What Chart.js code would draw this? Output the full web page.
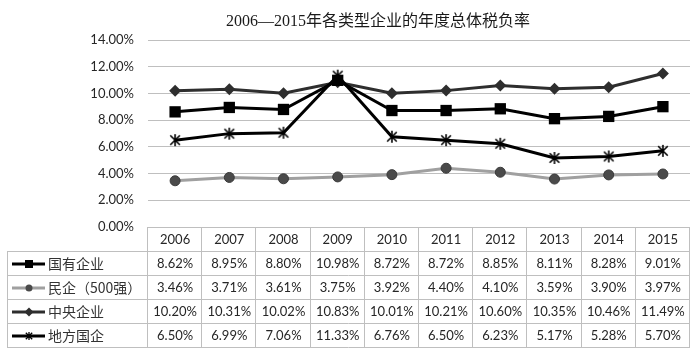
<!DOCTYPE html>
<html><head><meta charset="utf-8">
<script src="https://cdn.jsdelivr.net/npm/chart.js@4"></script>
<style>html,body{margin:0;padding:0;background:#fff}canvas{display:block}</style>
</head><body>
<canvas id="c" width="700" height="350"></canvas>
<script>
const chartTitle = '2006—2015年各类型企业的年度总体税负率';
const years = ['2006','2007','2008','2009','2010','2011','2012','2013','2014','2015'];
const seriesNames = ['国有企业','民企（500强）','中央企业','地方国企'];
const stateOwned = [8.62, 8.95, 8.80, 10.98, 8.72, 8.72, 8.85, 8.11, 8.28, 9.01];
const privateTop500 = [3.46, 3.71, 3.61, 3.75, 3.92, 4.40, 4.10, 3.59, 3.90, 3.97];
const centralSOE = [10.20, 10.31, 10.02, 10.83, 10.01, 10.21, 10.60, 10.35, 10.46, 11.49];
const localSOE = [6.50, 6.99, 7.06, 11.33, 6.76, 6.50, 6.23, 5.17, 5.28, 5.70];
const yMin = 0, yMax = 14, yStep = 2;

const NUM_FONT = '"Lato", "Open Sans", sans-serif';
const CJK_FONT = '"Noto Sans CJK SC", sans-serif';
const SERIF_FONT = '"Liberation Serif", "Noto Sans CJK SC", serif';

function makeStar(size, lw) {
  const c = document.createElement('canvas');
  c.width = size; c.height = size;
  const g = c.getContext('2d');
  g.strokeStyle = '#000'; g.lineWidth = lw; g.lineCap = 'butt';
  const m = size / 2, r = size / 2 - 1;
  g.beginPath();
  g.moveTo(m - r * 0.8, m - r * 0.8); g.lineTo(m + r * 0.8, m + r * 0.8);
  g.moveTo(m + r * 0.8, m - r * 0.8); g.lineTo(m - r * 0.8, m + r * 0.8);
  g.moveTo(m, m - r); g.lineTo(m, m + r);
  g.stroke();
  return c;
}
const starBig = makeStar(14, 1.6);
const starSmall = makeStar(10, 1.3);

const seriesData = [stateOwned, privateTop500, centralSOE, localSOE];
const seriesLine = ['#000000', '#a0a0a0', '#2e2e2e', '#000000'];

const tablePlugin = {
  id: 'tablePlugin',
  afterDraw(chart) {
    const ctx = chart.ctx;
    const area = chart.chartArea;
    const xs = chart.scales.x;
    const left = area.left, right = area.right;
    const colW = (right - left) / years.length;
    const top = Math.round(area.bottom);
    const headH = 24, rowH = 24;
    const tableLeft = 7;
    const bottom = top + headH + rowH * seriesNames.length;
    ctx.save();
    ctx.strokeStyle = '#bfbfbf';
    ctx.lineWidth = 1;
    ctx.beginPath();
    // header top
    ctx.moveTo(left, top + 0.5); ctx.lineTo(right, top + 0.5);
    // rows
    for (let r = 0; r <= seriesNames.length; r++) {
      const y = top + headH + r * rowH + 0.5;
      ctx.moveTo(tableLeft, y); ctx.lineTo(right, y);
    }
    // verticals
    for (let i = 0; i <= years.length; i++) {
      const x = Math.round(left + i * colW) - 0.5;
      ctx.moveTo(x, top); ctx.lineTo(x, bottom + 0.5);
    }
    ctx.moveTo(tableLeft + 0.5, top + headH); ctx.lineTo(tableLeft + 0.5, bottom + 0.5);
    ctx.stroke();

    ctx.fillStyle = '#262626';
    ctx.textAlign = 'center';
    ctx.textBaseline = 'middle';
    ctx.font = '13px ' + NUM_FONT;
    years.forEach((yr, i) => {
      ctx.fillText(yr, xs.getPixelForValue(i), top + headH / 2 + 1);
    });
    seriesNames.forEach((name, r) => {
      const cy = top + headH + r * rowH + rowH / 2 + 1;
      ctx.font = '13px ' + NUM_FONT;
      ctx.fillStyle = '#262626';
      ctx.textAlign = 'center';
      seriesData[r].forEach((v, i) => {
        ctx.fillText(v.toFixed(2) + '%', xs.getPixelForValue(i), cy);
      });
      // legend key
      ctx.strokeStyle = seriesLine[r];
      ctx.lineWidth = 3;
      ctx.beginPath();
      ctx.moveTo(12, cy); ctx.lineTo(45, cy);
      ctx.stroke();
      const mx = 29;
      if (r === 0) {
        ctx.fillStyle = '#000';
        ctx.fillRect(mx - 4, cy - 4, 8, 8);
      } else if (r === 1) {
        ctx.fillStyle = '#4a4a4a';
        ctx.beginPath(); ctx.arc(mx, cy, 3.5, 0, Math.PI * 2); ctx.fill();
      } else if (r === 2) {
        ctx.fillStyle = '#2e2e2e';
        ctx.beginPath();
        ctx.moveTo(mx, cy - 4.5); ctx.lineTo(mx + 4.5, cy); ctx.lineTo(mx, cy + 4.5); ctx.lineTo(mx - 4.5, cy);
        ctx.closePath(); ctx.fill();
      } else {
        ctx.drawImage(starSmall, mx - 5, cy - 5);
      }
      ctx.fillStyle = '#333';
      ctx.textAlign = 'left';
      ctx.font = '14px ' + CJK_FONT;
      ctx.fillText(name, 48, cy);
    });
    // title
    ctx.font = '16px ' + SERIF_FONT;
    ctx.fillStyle = '#1a1a1a';
    ctx.textAlign = 'center';
    ctx.fillText(chartTitle, 378, 22);
    ctx.restore();
  }
};

new Chart(document.getElementById('c'), {
  type: 'line',
  data: {
    labels: years,
    datasets: [
      { label: seriesNames[0], data: stateOwned, borderColor: seriesLine[0], borderWidth: 3,
        pointStyle: 'rect', pointRadius: 8, pointBackgroundColor: '#000', pointBorderColor: '#000', pointBorderWidth: 0, order: 2 },
      { label: seriesNames[1], data: privateTop500, borderColor: seriesLine[1], borderWidth: 3,
        pointStyle: 'circle', pointRadius: 5, pointBackgroundColor: '#4a4a4a', pointBorderColor: '#3a3a3a', pointBorderWidth: 1, order: 4 },
      { label: seriesNames[2], data: centralSOE, borderColor: seriesLine[2], borderWidth: 3,
        pointStyle: 'rectRot', pointRadius: 6, pointBackgroundColor: '#2e2e2e', pointBorderColor: '#2e2e2e', pointBorderWidth: 0, order: 3 },
      { label: seriesNames[3], data: localSOE, borderColor: seriesLine[3], borderWidth: 3,
        pointStyle: starBig, pointRadius: 7, order: 1 }
    ]
  },
  options: {
    responsive: false,
    animation: false,
    layout: { padding: { top: 40, right: 2, bottom: 123, left: 0 } },
    plugins: { legend: { display: false }, tooltip: { enabled: false }, title: { display: false } },
    elements: { line: { tension: 0 } },
    scales: {
      x: { type: 'category', offset: true, display: false },
      y: {
        min: yMin, max: yMax,
        ticks: { stepSize: yStep, padding: 14, color: '#262626', font: { family: NUM_FONT, size: 13 },
          callback: v => v.toFixed(2) + '%' },
        grid: { color: '#bfbfbf', lineWidth: 1, drawTicks: false },
        border: { display: false },
        afterFit: s => { s.width = 148; }
      }
    }
  },
  plugins: [tablePlugin]
});
</script>
</body></html>
